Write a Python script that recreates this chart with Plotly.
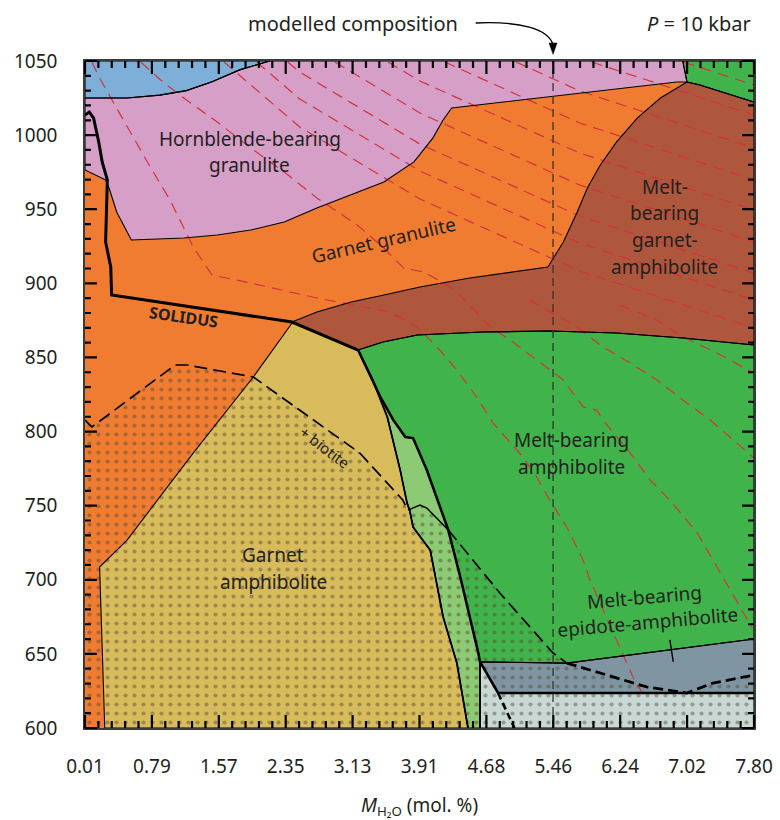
import plotly.graph_objects as go

# ---------------- axis ticks ----------------
x_tick_vals = [0.01 + i * 0.779 for i in range(11)]
x_tick_text = ["0.01", "0.79", "1.57", "2.35", "3.13", "3.91", "4.68", "5.46", "6.24", "7.02", "7.80"]
x_minor_vals = [0.01 + i * 0.1558 for i in range(51)]
y_tick_vals = [600, 650, 700, 750, 800, 850, 900, 950, 1000, 1050]
y_minor_vals = list(range(600, 1051, 10))

# ---------------- phase fields (M_H2O, T) ----------------
blue_x = [0.01, 2.16, 1.81, 1.49, 1.19, 0.88, 0.50, 0.01]
blue_t = [1050, 1050, 1044, 1036, 1030, 1027, 1025, 1025]

pink_x = [0.01, 0.50, 0.88, 1.19, 1.49, 1.81, 2.16, 6.97, 7.02, 6.90, 4.28, 4.18, 4.06, 3.91, 3.84,
          3.49, 3.11, 2.71, 2.33, 1.94, 1.55, 1.16, 0.55, 0.38, 0.29, 0.25, 0.01]
pink_t = [1025, 1025, 1027, 1030, 1036, 1044, 1050, 1050, 1035.8, 1035.8, 1018.3, 1010.2, 998, 986.6, 981.9,
          968.4, 959.6, 950.8, 941.4, 936, 932.6, 930.6, 929.2, 948, 964.3, 969.7, 976.5]

green_top_x = [6.97, 7.80, 7.80, 7.17, 7.02]
green_top_t = [1050, 1050, 1022.3, 1033.8, 1035.8]

brown_x = [7.02, 7.17, 7.80, 7.80, 6.97, 6.20, 5.42, 4.64, 3.88, 3.48, 3.19, 2.42, 2.71, 3.11, 3.49,
           3.91, 4.49, 5.08, 5.40, 5.58, 5.74, 5.86, 6.01, 6.20, 6.44, 6.71]
brown_t = [1035.8, 1033.8, 1022.3, 858.4, 863.1, 866.5, 867.8, 867.2, 865.1, 860.4, 855, 873.9, 880.7, 887.4, 892.1,
           897.5, 903.6, 908.3, 911, 927.9, 948, 964.3, 979.8, 995.4, 1011.5, 1025]

green_x = [3.19, 3.48, 3.88, 4.64, 5.42, 6.20, 6.97, 7.80, 7.80, 5.62, 4.61, 4.59, 4.38, 4.24, 3.99,
           3.83, 3.74, 3.60, 3.45]
green_t = [855, 860.4, 865.1, 867.2, 867.8, 866.5, 863.1, 858.4, 660, 643.8, 644.6, 650.6, 701.9, 733.6, 774,
           795.6, 796.3, 807.8, 823.3]

yellow_x = [2.43, 3.19, 3.36, 3.53, 3.68, 3.76, 3.79, 3.83, 4.03, 4.18, 4.34, 4.47, 0.24, 0.18, 0.50, 1.27, 1.97]
yellow_t = [873.9, 855, 834.8, 809.8, 774, 751.8, 747, 735.6, 720, 674.9, 643.8, 600, 600, 708.6, 726.8, 785.5, 836.8]

lgreen_x = [3.19, 3.45, 3.60, 3.74, 3.83, 3.99, 4.24, 4.38, 4.59, 4.61, 4.61, 4.47, 4.34, 4.18, 4.03,
            3.83, 3.79, 3.76, 3.68, 3.53, 3.36]
lgreen_t = [855, 823.3, 807.8, 796.3, 795.6, 774, 733.6, 701.9, 650.6, 644.6, 600, 600, 643.8, 674.9, 720,
            735.6, 747, 751.8, 774, 809.8, 834.8]

dgray_x = [4.61, 5.62, 7.80, 7.80, 4.82]
dgray_t = [644.6, 643.8, 660, 623.6, 623.6]

lgray_x = [4.61, 4.82, 7.80, 7.80, 4.61]
lgray_t = [644.6, 623.6, 623.6, 600, 600]

# ---------------- lines ----------------
solidus_x = [0.01, 0.06, 0.11, 0.17, 0.21, 0.27, 0.25, 0.31, 0.32, 2.42, 3.19]
solidus_t = [1013.6, 1015.6, 1011.5, 995.4, 981.9, 969.7, 927.9, 911, 892.1, 873.9, 855]

amph_right_x = [3.19, 3.45, 3.60, 3.74, 3.83, 3.99, 4.24, 4.38, 4.59, 4.61]
amph_right_t = [855, 823.3, 807.8, 796.3, 795.6, 774, 733.6, 701.9, 650.6, 644.6]

amph_left_x = [3.19, 3.36, 3.53, 3.68, 3.76, 3.79, 3.83, 4.03, 4.18, 4.34, 4.47]
amph_left_t = [855, 834.8, 809.8, 774, 751.8, 747, 735.6, 720, 674.9, 643.8, 600]

epidote_x = [4.61, 4.82, 7.80]
epidote_t = [644.6, 623.6, 623.6]

epidote_dash_x = [4.82, 5.01]
epidote_dash_t = [623.6, 600]

pointer_x = [6.82, 6.86]
pointer_t = [659.4, 644.6]

# + biotite limit
bio_dash_a_x = [0.01, 0.09, 1.06, 1.20, 1.97, 3.13, 3.21, 3.71, 3.77]
bio_dash_a_t = [807.8, 803.1, 844.9, 844.9, 836.8, 788.9, 785.5, 753.8, 747]
bio_solid_x = [3.77, 3.91, 3.99, 4.24]
bio_solid_t = [747, 750.4, 748.4, 733.6]
bio_dash_b_x = [4.24, 4.84, 5.46, 5.62]
bio_dash_b_t = [733.6, 691.1, 650.6, 643.8]
bio_dash_c_x = [5.62, 6.16, 6.55, 7.02, 7.32, 7.80]
bio_dash_c_t = [643.8, 634.3, 627.7, 623.6, 630.3, 635.7]

stipple_x = bio_dash_a_x + bio_solid_x[1:] + bio_dash_b_x[1:] + bio_dash_c_x[1:] + [7.80, 0.01]
stipple_t = bio_dash_a_t + bio_solid_t[1:] + bio_dash_b_t[1:] + bio_dash_c_t[1:] + [600, 600]

# red dashed isopleths
iso_lines = [
    ([0.09, 0.18, 0.39, 0.65, 0.77, 1.00, 1.27, 1.49, 1.94, 2.71, 3.29, 3.56, 3.88, 4.11, 4.34, 4.57, 4.76,
      4.96, 5.11, 5.27, 5.42, 5.62, 5.81, 5.89, 6.20, 6.39, 6.50],
     [1049.3, 1038.5, 1017, 990, 978.5, 956.2, 924.5, 905.6, 900.2, 890.1, 884, 880.7, 870.5, 857, 841.5, 823.3,
      805.8, 792.3, 782.8, 769.3, 753.8, 735.6, 713.3, 699.8, 659.4, 634.4, 623.6]),
    ([0.66, 0.89, 1.16, 1.55, 1.94, 2.33, 2.71, 3.18, 3.49, 3.72, 3.96, 4.32, 4.73, 4.96, 5.27, 5.58, 5.81,
      5.97, 6.04, 6.36, 6.59, 6.82, 7.14, 7.37, 7.60, 7.78],
     [1049.3, 1037.2, 1025, 1008.8, 991.3, 975.1, 957.6, 939.4, 923.8, 910.3, 907.6, 895.5, 870.5, 861.8, 848.3,
      834.8, 816.6, 814.5, 807.8, 785.5, 767.3, 753.8, 731.5, 708.6, 686.3, 667.5]),
    ([1.63, 2.51, 3.91, 5.77, 7.80], [1049.3, 1005.5, 956.9, 908.3, 869.9]),
    ([2.01, 2.51, 3.91, 5.77, 7.80], [1049.3, 1024.4, 975.8, 927.2, 888.8]),
    ([2.37, 2.51, 3.91, 5.77, 7.80], [1049.3, 1042.6, 994, 945.4, 906.9]),
    ([2.92, 3.91, 5.77, 7.80], [1049.3, 1014.9, 966.3, 927.9]),
    ([3.54, 3.91, 5.77, 7.80], [1049.3, 1036.5, 987.9, 949.5]),
    ([4.20, 5.77, 7.80], [1049.3, 1008.2, 969.7]),
    ([5.03, 5.77, 7.80], [1049.3, 1029.8, 991.3]),
    ([5.91, 7.80], [1049.3, 1013.6]),
    ([6.98, 7.80], [1049.3, 1033.8]),
    ([5.19, 5.74, 6.04, 6.36, 6.67, 6.97, 7.29, 7.52, 7.80],
     [888.8, 870.5, 857, 846.2, 834.8, 821.3, 807.8, 796.3, 782.2]),
    ([6.24, 6.67, 6.97, 7.37, 7.67, 7.80], [885.4, 875.3, 863.8, 853, 843.5, 839.5]),
]

model_x = 5.46

# ---------------- colours ----------------
C_ORANGE = "#F07C31"
C_BLUE = "#7DAFD9"
C_PINK = "#D59FC8"
C_GREEN = "#40B44A"
C_BROWN = "#AF573D"
C_YELLOW = "#D8BB5B"
C_LGREEN = "#8DCA74"
C_DGRAY = "#7F96A2"
C_LGRAY = "#C8D8D5"
C_RED = "#D3333C"
C_INK = "#231F20"
FONT = "Noto Sans"

X_LO, X_HI = 0.01, 7.80
T_LO, T_HI = 600, 1050
# plot area is 669 x 667 px; used to size the tick marks in data units
PX_X = (X_HI - X_LO) / 669.0
PX_T = (T_HI - T_LO) / 667.0

fig = go.Figure()


def field(xs, ts, color):
    fig.add_trace(go.Scatter(x=xs + xs[:1], y=ts + ts[:1], mode="lines", fill="toself",
                             fillcolor=color, line=dict(width=0, color=color),
                             hoverinfo="skip", showlegend=False))


def edge(xs, ts, width=1.1, color="black", dash=None, close=False):
    if close:
        xs = xs + xs[:1]
        ts = ts + ts[:1]
    fig.add_trace(go.Scatter(x=xs, y=ts, mode="lines",
                             line=dict(width=width, color=color, dash=dash),
                             hoverinfo="skip", showlegend=False))


# background field (garnet granulite)
field([X_LO, X_HI, X_HI, X_LO], [T_LO, T_LO, T_HI, T_HI], C_ORANGE)

fields = [
    (blue_x, blue_t, C_BLUE),
    (pink_x, pink_t, C_PINK),
    (green_top_x, green_top_t, C_GREEN),
    (brown_x, brown_t, C_BROWN),
    (green_x, green_t, C_GREEN),
    (yellow_x, yellow_t, C_YELLOW),
    (lgreen_x, lgreen_t, C_LGREEN),
    (dgray_x, dgray_t, C_DGRAY),
    (lgray_x, lgray_t, C_LGRAY),
]
for fx, ft, fc in fields:
    field(fx, ft, fc)

# stippled + biotite field
fig.add_trace(go.Scatter(x=stipple_x + stipple_x[:1], y=stipple_t + stipple_t[:1], mode="lines",
                         fill="toself", fillcolor="rgba(0,0,0,0)",
                         fillpattern=dict(shape=".", fgcolor="rgba(85,75,50,0.9)",
                                          bgcolor="rgba(0,0,0,0)", size=9, solidity=0.17),
                         line=dict(width=0), hoverinfo="skip", showlegend=False))

# isopleths
for ix, it in iso_lines:
    edge(ix, it, width=1.2, color=C_RED, dash="11px,7px")

# field boundaries
for fx, ft, fc in fields:
    edge(fx, ft, width=1.1, close=True)

# modelled composition
edge([model_x, model_x], [T_LO, T_HI], width=1.3, color="#333333", dash="8px,5px")

# heavy boundaries
edge(solidus_x, solidus_t, width=3)
edge(amph_right_x, amph_right_t, width=2.6)
edge(amph_left_x, amph_left_t, width=1.8)
edge([4.61, 4.61], [644.6, 600], width=1.8)
edge(epidote_x, epidote_t, width=2.6)
edge(epidote_dash_x, epidote_dash_t, width=2.6, dash="7px,4px")
edge(pointer_x, pointer_t, width=1.4)

edge(bio_dash_a_x, bio_dash_a_t, width=1.7, dash="13px,6px")
edge(bio_solid_x, bio_solid_t, width=1.5)
edge(bio_dash_b_x, bio_dash_b_t, width=1.7, dash="13px,6px")
edge(bio_dash_c_x, bio_dash_c_t, width=2.8, dash="10px,5px")

# inward tick marks on all four sides, drawn as one path per side in paper units
def paper_x(v):
    return (v - X_LO) / (X_HI - X_LO)


def paper_y(v):
    return (v - T_LO) / (T_HI - T_LO)


bottom, top, left, right = [], [], [], []
for i, v in enumerate(x_minor_vals):
    px = paper_x(v)
    ln = (13 if i % 5 == 0 else 7) / 667.0
    bottom.append(f"M {px:.5f},0 L {px:.5f},{ln:.5f}")
    top.append(f"M {px:.5f},1 L {px:.5f},{1 - ln:.5f}")
for v in y_minor_vals:
    py = paper_y(v)
    ln = (12 if v % 50 == 0 else 6) / 669.0
    left.append(f"M 0,{py:.5f} L {ln:.5f},{py:.5f}")
    right.append(f"M 1,{py:.5f} L {1 - ln:.5f},{py:.5f}")
for segs in (bottom, top, left, right):
    fig.add_shape(type="path", xref="paper", yref="paper", path=" ".join(segs),
                  line=dict(color="black", width=2.2), layer="above")


# ---------------- labels ----------------
def label(text, x, y, size=19, angle=0, bold=False, xref="x", yref="y"):
    fig.add_annotation(x=x, y=y, xref=xref, yref=yref, text=f"<b>{text}</b>" if bold else text,
                       showarrow=False, textangle=angle, xanchor="center", yanchor="middle",
                       font=dict(family=FONT, size=size, color=C_INK))


label("Hornblende-bearing", 1.93, 997.4)
label("granulite", 1.93, 979.8)
label("Garnet granulite", 3.49, 929.3, angle=-13)
label("Melt-", 6.76, 965)
label("bearing", 6.76, 947.5)
label("garnet-", 6.76, 929.2)
label("amphibolite", 6.76, 911)
label("SOLIDUS", 1.16, 877.3, size=16, angle=8, bold=True)
label("+ biotite", 2.80, 789.6, size=15, angle=37)
label("Garnet", 2.20, 716.7)
label("amphibolite", 2.20, 698.5)
label("Melt-bearing", 5.68, 794.3)
label("amphibolite", 5.68, 776.1)
label("Melt-bearing", 6.53, 688.4, angle=-5)
label("epidote-amphibolite", 6.57, 671.5, angle=-5)

label("modelled composition", 0.400, 1.0555, size=20, xref="paper", yref="paper")
label("<i>P</i> = 10 kbar", 0.918, 1.0555, size=20, xref="paper", yref="paper")

# curved pointer to the modelled composition
fig.add_shape(type="path", xref="paper", yref="paper",
              path="M 0.584,1.057 C 0.650,1.060 0.693,1.048 0.6996,1.024",
              line=dict(color="black", width=1.3))
fig.add_shape(type="path", xref="paper", yref="paper",
              path="M 0.6936,1.027 L 0.7056,1.027 L 0.6996,1.010 Z",
              fillcolor="black", line=dict(color="black", width=0.5))

axis_common = dict(showline=True, linecolor="#3a3a3a", linewidth=1.5, mirror=True,
                   ticks="", automargin=False, layer="above traces",
                   showgrid=False, zeroline=False,
                   tickfont=dict(family=FONT, size=19, color=C_INK))

fig.update_xaxes(range=[X_LO, X_HI], tickmode="array", tickvals=x_tick_vals, ticktext=x_tick_text,
                 ticklabelstandoff=20,
                 title=dict(text="<i>M</i><sub>H₂O</sub> (mol. %)", standoff=26,
                            font=dict(family=FONT, size=19, color=C_INK)),
                 **axis_common)
fig.update_yaxes(range=[T_LO, T_HI], tickmode="array", tickvals=y_tick_vals,
                 ticklabelstandoff=22, **axis_common)

fig.update_layout(width=780, height=820, margin=dict(l=85, r=26, t=61, b=92),
                  plot_bgcolor="white", paper_bgcolor="white", showlegend=False)

fig.write_html("out.html")
